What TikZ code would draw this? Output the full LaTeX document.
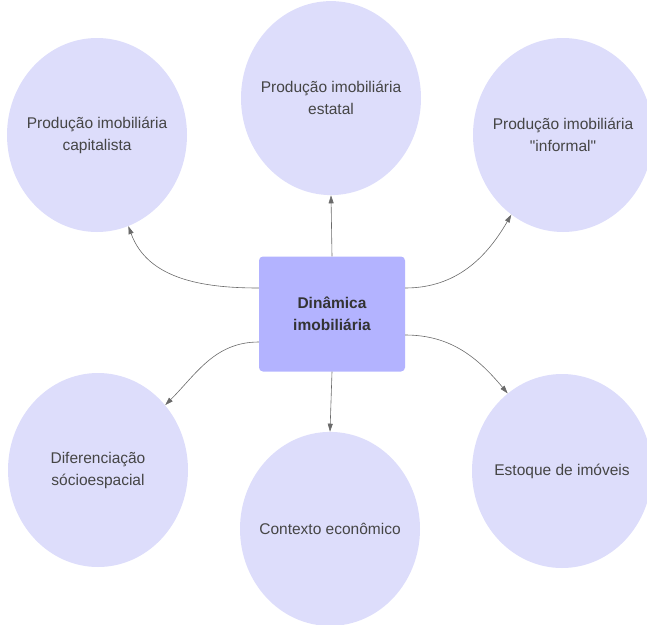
\documentclass[tikz,border=0pt]{standalone}
\usepackage{fontspec}
\setmainfont{Liberation Sans}
\usetikzlibrary{positioning,arrows.meta,shapes.geometric}

\definecolor{lilas}{HTML}{DDDDFB}
\definecolor{lilasforte}{HTML}{B3B3FF}
\definecolor{cinzatexto}{HTML}{454545}
\definecolor{cinzaseta}{HTML}{6A6A6A}

\begin{document}
\begin{tikzpicture}[
      x=1pt, y=-1pt,
      font=\fontsize{15.5}{22}\selectfont,
      bolha/.style={ellipse, fill=lilas, draw=none,
                    inner xsep=-30pt, inner ysep=-10pt,
                    minimum width=180pt, minimum height=194pt,
                    align=center, text=cinzatexto},
      centro/.style={rectangle, rounded corners=4pt, fill=lilasforte, draw=none,
                     minimum width=146pt, minimum height=115pt,
                     align=center, text=black!80, font=\fontsize{15.5}{22}\selectfont\bfseries},
      seta/.style={-{Triangle[length=8pt,width=5pt]}, line width=0.6pt, cinzaseta}
    ]
    \useasboundingbox (0,0) rectangle (647,624);

    \node[centro] (din) at (332,314) {Dinâmica\\imobiliária};

    \node[bolha, above=61pt of din, xshift=-1pt] (estatal)
      {Produção imobiliária\\estatal};
    \node[bolha, below=60pt of din, xshift=-2pt] (econ)
      {Contexto econômico};
    \node[bolha] (capi) at (97,135) {Produção imobiliária\\capitalista};
    \node[bolha] (infor) at (563,135)
      {Produção imobiliária\\\textquotedbl informal\textquotedbl};
    \node[bolha] (difer) at (98,470) {Diferenciação\\sócioespacial};
    \node[bolha] (estoq) at (562,471) {Estoque de imóveis};

    \draw[seta] (din.north) -- (estatal.south);
    \draw[seta] (din.south) -- (econ.north);
    \draw[seta] ([yshift=26pt]din.west) to[out=180, in=-70] (capi.-71);
    \draw[seta] ([yshift=26pt]din.east) to[out=0, in=-120] (infor.-123);
    \draw[seta] ([yshift=-28pt]din.west) to[out=180, in=45] (difer.44);
    \draw[seta] ([yshift=-21pt]din.east) to[out=0, in=130] (estoq.125);
  \end{tikzpicture}
\end{document}
